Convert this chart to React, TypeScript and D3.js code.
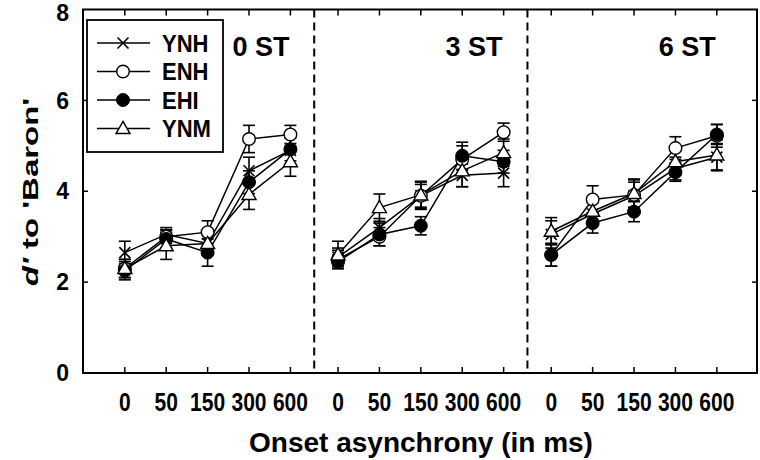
import React from "react";
import * as d3 from "d3";

const panels = ["0 ST", "3 ST", "6 ST"];
const onsets = ["0", "50", "150", "300", "600"];
const seriesNames = ["YNH", "ENH", "EHI", "YNM"];
const yTicks = [0, 2, 4, 6, 8];

// values per series: [panel][onset]
const ynh = [
  [2.65, 3.05, 2.85, 4.45, 4.9],
  [2.55, 3.2, 3.9, 4.35, 4.4],
  [3.05, 3.5, 3.9, 4.5, 4.75],
];
const ynhErr = [
  [0.25, 0.15, 0.2, 0.3, 0.3],
  [0.2, 0.2, 0.25, 0.25, 0.3],
  [0.3, 0.25, 0.3, 0.25, 0.3],
];
const enh = [
  [2.3, 3.0, 3.1, 5.15, 5.25],
  [2.5, 3.0, 3.9, 4.7, 5.3],
  [2.6, 3.82, 3.92, 4.95, 5.22],
];
const enhErr = [
  [0.2, 0.15, 0.25, 0.3, 0.2],
  [0.2, 0.2, 0.3, 0.3, 0.2],
  [0.25, 0.3, 0.35, 0.25, 0.25],
];
const ehi = [
  [2.25, 2.95, 2.65, 4.2, 4.92],
  [2.45, 3.05, 3.24, 4.78, 4.65],
  [2.6, 3.3, 3.55, 4.42, 5.25],
];
const ehiErr = [
  [0.2, 0.2, 0.3, 0.25, 0.25],
  [0.15, 0.25, 0.2, 0.3, 0.25],
  [0.25, 0.22, 0.22, 0.2, 0.22],
];
const ynm = [
  [2.3, 2.8, 2.85, 3.93, 4.65],
  [2.6, 3.64, 3.92, 4.45, 4.85],
  [3.12, 3.56, 3.95, 4.65, 4.8],
];
const ynmErr = [
  [0.2, 0.3, 0.25, 0.33, 0.32],
  [0.3, 0.3, 0.3, 0.35, 0.3],
  [0.3, 0.3, 0.3, 0.3, 0.33],
];

const seriesVals = [ynh, enh, ehi, ynm];
const seriesErrs = [ynhErr, enhErr, ehiErr, ynmErr];
const markers = ["x", "circleOpen", "circleFilled", "triangle"];

const W = 760;
const H = 460;
const PANEL_STEP = 5.15;
const FONT = "'Liberation Sans', Arial, sans-serif";

const x = d3.scaleLinear().domain([-1.01, 15.27]).range([83, 757]);
const y = d3.scaleLinear().domain([0, 8]).range([373, 9.5]);
const pos = (p: number, i: number) => p * PANEL_STEP + i;

function T({
  x: tx,
  y: ty,
  size,
  sx = 1,
  sy = 1,
  rot = 0,
  anchor = "start",
  children,
}: {
  x: number;
  y: number;
  size: number;
  sx?: number;
  sy?: number;
  rot?: number;
  anchor?: string;
  children: React.ReactNode;
}) {
  return (
    <text
      transform={`translate(${tx},${ty}) rotate(${rot}) scale(${sx},${sy})`}
      fontSize={size}
      fontWeight="bold"
      textAnchor={anchor as any}
    >
      {children}
    </text>
  );
}

function Marker({ kind, cx, cy }: { kind: string; cx: number; cy: number }) {
  if (kind === "x") {
    const s = 5.5;
    return (
      <g stroke="#000" strokeWidth={1.6}>
        <line x1={cx - s} y1={cy - s} x2={cx + s} y2={cy + s} />
        <line x1={cx - s} y1={cy + s} x2={cx + s} y2={cy - s} />
      </g>
    );
  }
  if (kind === "circleOpen")
    return <circle cx={cx} cy={cy} r={6.3} fill="#fff" stroke="#000" strokeWidth={1.4} />;
  if (kind === "circleFilled")
    return <circle cx={cx} cy={cy} r={6.5} fill="#000" stroke="#000" strokeWidth={1} />;
  const sym = d3.symbol().type(d3.symbolTriangle).size(85)();
  return (
    <path d={sym || ""} transform={`translate(${cx},${cy + 1})`} fill="#fff" stroke="#000" strokeWidth={1.4} />
  );
}

export default function App() {
  const line = d3
    .line<[number, number]>()
    .x((d) => d[0])
    .y((d) => d[1]);
  const frameL = x.range()[0];
  const frameR = x.range()[1];
  const frameT = y(8);
  const frameB = y(0);
  const dividers = [0, 1].map((p) => x(pos(p, 4) + (PANEL_STEP - 4) / 2));

  return (
    <svg width={W} height={H} style={{ position: "absolute", left: 0, top: 0, background: "#fff" }} fontFamily={FONT}>
      <rect x={0} y={0} width={W} height={H} fill="#fff" />
      {/* frame */}
      <rect x={frameL} y={frameT} width={frameR - frameL} height={frameB - frameT} fill="none" stroke="#000" strokeWidth={2} />
      {/* y ticks */}
      {yTicks.map((t) => (
        <g key={t}>
          {t > 0 && t < 8 && (
            <>
              <line x1={frameL} x2={frameL + 5} y1={y(t)} y2={y(t)} stroke="#000" strokeWidth={1.5} />
              <line x1={frameR} x2={frameR - 5} y1={y(t)} y2={y(t)} stroke="#000" strokeWidth={1.5} />
            </>
          )}
          <T x={69} y={Math.max(y(t), 12.5) + 8.2} size={23} anchor="end">
            {t}
          </T>
        </g>
      ))}
      {/* x ticks */}
      {panels.map((_, p) =>
        onsets.map((o, i) => {
          const xx = x(pos(p, i));
          return (
            <g key={`${p}-${i}`}>
              <line x1={xx} x2={xx} y1={frameB} y2={frameB - 6} stroke="#000" strokeWidth={1.5} />
              <line x1={xx} x2={xx} y1={frameT} y2={frameT + 6} stroke="#000" strokeWidth={1.5} />
              <T x={xx} y={411} size={21} sy={1.2} anchor="middle">
                {o}
              </T>
            </g>
          );
        })
      )}
      {/* dividers */}
      {dividers.map((dx, k) => (
        <line key={k} x1={dx} x2={dx} y1={frameT} y2={frameB} stroke="#000" strokeWidth={2} strokeDasharray="8,5" />
      ))}
      {/* panel labels */}
      {panels.map((lab, p) => (
        <T key={lab} x={x(pos(p, 4)) - 1} y={56} size={27} anchor="end">
          {lab}
        </T>
      ))}
      {/* data lines */}
      {seriesVals.map((vals, s) =>
        panels.map((_, p) => (
          <path
            key={`l${s}-${p}`}
            d={line(vals[p].map((v, i) => [x(pos(p, i)), y(v)] as [number, number])) || ""}
            fill="none"
            stroke="#000"
            strokeWidth={1.5}
          />
        ))
      )}
      {/* error bars */}
      {seriesVals.map((vals, s) =>
        panels.map((_, p) =>
          vals[p].map((v, i) => {
            const e = seriesErrs[s][p][i];
            const xx = x(pos(p, i));
            return (
              <g key={`e${s}-${p}-${i}`} stroke="#000" strokeWidth={1.6}>
                <line x1={xx} x2={xx} y1={y(v - e)} y2={y(v + e)} />
                <line x1={xx - 6} x2={xx + 6} y1={y(v - e)} y2={y(v - e)} />
                <line x1={xx - 6} x2={xx + 6} y1={y(v + e)} y2={y(v + e)} />
              </g>
            );
          })
        )
      )}
      {/* markers */}
      {seriesVals.map((vals, s) =>
        panels.map((_, p) =>
          vals[p].map((v, i) => (
            <Marker key={`m${s}-${p}-${i}`} kind={markers[s]} cx={x(pos(p, i))} cy={y(v)} />
          ))
        )
      )}
      {/* legend */}
      <rect x={87} y={20} width={136} height={132} fill="#fff" stroke="#000" strokeWidth={1.8} />
      {seriesNames.map((nm, s) => {
        const ly = 43 + s * 28.5;
        return (
          <g key={nm}>
            <line x1={97} x2={150} y1={ly} y2={ly} stroke="#000" strokeWidth={1.5} />
            <Marker kind={markers[s]} cx={123} cy={ly} />
            <T x={162} y={ly + 8.5} size={22} sy={1.05}>
              {nm}
            </T>
          </g>
        );
      })}
      {/* axis titles */}
      <T x={421} y={452} size={28} anchor="middle">
        Onset asynchrony (in ms)
      </T>
      <T x={38} y={192} size={22} sx={1.5} rot={-90} anchor="middle">
        <tspan fontStyle="italic">d'</tspan>
        <tspan> to 'Baron'</tspan>
      </T>
    </svg>
  );
}
